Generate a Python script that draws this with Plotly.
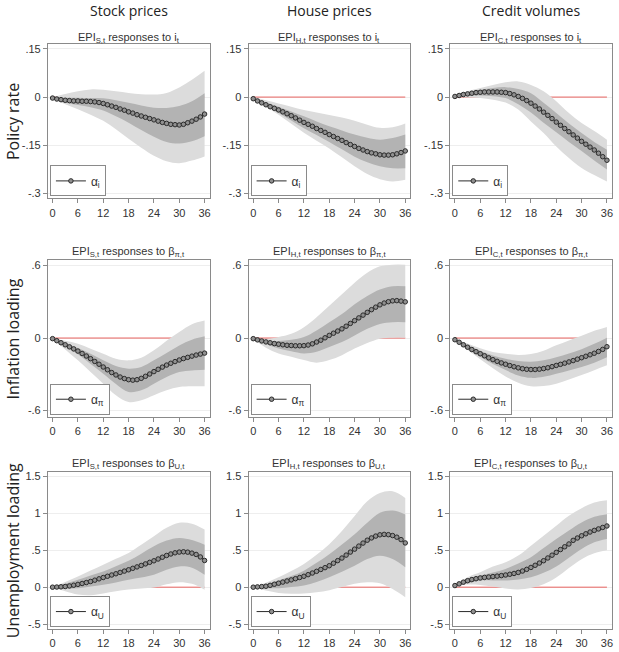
import plotly.graph_objects as go

W, H = 619, 652

# ---------------- data ----------------
horizon = list(range(37))
band_x = list(range(0, 37, 3))

col_titles = ["Stock prices", "House prices", "Credit volumes"]
row_titles = ["Policy rate", "Inflation loading", "Unemployment loading"]
shock_labels = ["i<sub>t</sub>", "β<sub>π,t</sub>", "β<sub>U,t</sub>"]
epi_labels = ["S,t", "H,t", "C,t"]
legend_labels = ["α<sub>i</sub>", "α<sub>π</sub>", "α<sub>U</sub>"]

x_ticks = [0, 6, 12, 18, 24, 30, 36]
y_tickvals = [[0.15, 0, -0.15, -0.3], [0.6, 0, -0.6], [1.5, 1, 0.5, 0, -0.5]]
y_ticktext = [[".15", "0", "-.15", "-.3"], [".6", "0", "-.6"], ["1.5", "1", ".5", "0", "-.5"]]
y_ranges = [[-0.316, 0.166], [-0.652, 0.645], [-0.568, 1.568]]

# --- row 1: policy rate ---
mean_S_i = [-0.003, -0.006, -0.008, -0.010, -0.011, -0.012, -0.012, -0.013, -0.013, -0.014,
            -0.015, -0.017, -0.020, -0.024, -0.028, -0.032, -0.037, -0.041, -0.046, -0.050,
            -0.055, -0.059, -0.063, -0.067, -0.071, -0.075, -0.079, -0.082, -0.085, -0.086,
            -0.087, -0.085, -0.080, -0.075, -0.069, -0.062, -0.053]
lu_S_i = [0.000, 0.010, 0.018, 0.024, 0.023, 0.018, 0.013, 0.009, 0.008, 0.013, 0.030, 0.054, 0.082]
ll_S_i = [-0.006, -0.022, -0.038, -0.055, -0.074, -0.100, -0.130, -0.158, -0.183, -0.200, -0.206, -0.198, -0.185]
du_S_i = [0.000, -0.002, -0.002, -0.003, -0.004, -0.010, -0.018, -0.026, -0.033, -0.034, -0.028, -0.013, 0.012]
dl_S_i = [-0.006, -0.018, -0.025, -0.032, -0.042, -0.060, -0.080, -0.103, -0.124, -0.140, -0.145, -0.138, -0.122]

mean_H_i = [-0.005, -0.012, -0.018, -0.024, -0.030, -0.035, -0.040, -0.046, -0.052, -0.058,
            -0.065, -0.072, -0.079, -0.085, -0.091, -0.098, -0.104, -0.110, -0.117, -0.123,
            -0.129, -0.135, -0.142, -0.148, -0.154, -0.160, -0.165, -0.170, -0.174, -0.177,
            -0.180, -0.181, -0.181, -0.180, -0.177, -0.173, -0.168]
lu_H_i = [0.000, -0.010, -0.020, -0.030, -0.040, -0.048, -0.056, -0.064, -0.074, -0.086, -0.096, -0.094, -0.082]
ll_H_i = [-0.008, -0.030, -0.055, -0.083, -0.111, -0.136, -0.160, -0.188, -0.216, -0.240, -0.256, -0.263, -0.258]
du_H_i = [-0.003, -0.016, -0.030, -0.045, -0.060, -0.076, -0.091, -0.104, -0.117, -0.127, -0.133, -0.128, -0.117]
dl_H_i = [-0.007, -0.027, -0.050, -0.073, -0.097, -0.118, -0.140, -0.163, -0.186, -0.203, -0.216, -0.222, -0.222]

mean_C_i = [0.002, 0.005, 0.008, 0.010, 0.012, 0.014, 0.015, 0.016, 0.016, 0.016,
            0.016, 0.015, 0.014, 0.011, 0.007, 0.002, -0.004, -0.011, -0.019, -0.028,
            -0.037, -0.047, -0.057, -0.067, -0.078, -0.088, -0.098, -0.108, -0.118, -0.128,
            -0.138, -0.147, -0.156, -0.165, -0.175, -0.186, -0.197]
lu_C_i = [0.002, 0.018, 0.028, 0.038, 0.046, 0.049, 0.038, 0.018, -0.013, -0.050, -0.081, -0.106, -0.133]
ll_C_i = [0.001, -0.001, -0.003, -0.008, -0.017, -0.039, -0.076, -0.112, -0.154, -0.190, -0.221, -0.243, -0.263]
du_C_i = [0.002, 0.014, 0.023, 0.028, 0.031, 0.025, 0.012, -0.018, -0.050, -0.082, -0.112, -0.140, -0.164]
dl_C_i = [0.001, 0.004, 0.005, 0.003, -0.003, -0.022, -0.048, -0.080, -0.110, -0.140, -0.168, -0.198, -0.226]

# --- row 2: inflation loading ---
mean_S_p = [-0.005, -0.022, -0.039, -0.056, -0.073, -0.090, -0.108, -0.128, -0.149, -0.171,
            -0.194, -0.217, -0.240, -0.263, -0.286, -0.306, -0.323, -0.336, -0.345, -0.349,
            -0.345, -0.334, -0.317, -0.298, -0.278, -0.259, -0.241, -0.224, -0.209, -0.195,
            -0.182, -0.170, -0.160, -0.150, -0.141, -0.133, -0.125]
lu_S_p = [-0.003, -0.022, -0.047, -0.088, -0.130, -0.171, -0.185, -0.163, -0.102, -0.022, 0.050, 0.115, 0.145]
ll_S_p = [-0.008, -0.095, -0.185, -0.281, -0.378, -0.474, -0.530, -0.516, -0.474, -0.433, -0.406, -0.400, -0.400]
du_S_p = [-0.004, -0.045, -0.082, -0.130, -0.185, -0.232, -0.254, -0.240, -0.185, -0.124, -0.061, -0.014, 0.014]
dl_S_p = [-0.007, -0.068, -0.135, -0.215, -0.295, -0.380, -0.447, -0.433, -0.378, -0.323, -0.281, -0.268, -0.262]

mean_H_p = [-0.005, -0.015, -0.024, -0.032, -0.039, -0.046, -0.051, -0.056, -0.060, -0.062,
            -0.064, -0.064, -0.063, -0.058, -0.048, -0.033, -0.018, 0.002, 0.022, 0.040,
            0.058, 0.076, 0.098, 0.121, 0.144, 0.167, 0.190, 0.213, 0.235, 0.256,
            0.275, 0.290, 0.301, 0.308, 0.310, 0.306, 0.300]
lu_H_p = [-0.003, -0.010, 0.008, 0.035, 0.090, 0.172, 0.267, 0.362, 0.458, 0.540, 0.594, 0.608, 0.608]
ll_H_p = [-0.007, -0.080, -0.128, -0.155, -0.183, -0.204, -0.183, -0.142, -0.087, -0.041, -0.005, 0.003, 0.003]
du_H_p = [-0.004, -0.020, -0.025, -0.015, 0.008, 0.063, 0.131, 0.200, 0.281, 0.349, 0.403, 0.430, 0.430]
dl_H_p = [-0.006, -0.050, -0.087, -0.110, -0.128, -0.114, -0.074, -0.033, 0.022, 0.076, 0.117, 0.131, 0.131]

mean_C_p = [-0.014, -0.035, -0.056, -0.076, -0.095, -0.113, -0.130, -0.147, -0.164, -0.179,
            -0.193, -0.206, -0.217, -0.228, -0.238, -0.247, -0.254, -0.259, -0.261, -0.261,
            -0.258, -0.253, -0.246, -0.237, -0.227, -0.218, -0.208, -0.198, -0.187, -0.175,
            -0.163, -0.151, -0.139, -0.126, -0.111, -0.094, -0.072]
lu_C_p = [-0.010, -0.045, -0.085, -0.115, -0.130, -0.140, -0.132, -0.105, -0.060, -0.020, 0.019, 0.060, 0.092]
ll_C_p = [-0.018, -0.100, -0.175, -0.250, -0.318, -0.370, -0.400, -0.398, -0.378, -0.343, -0.307, -0.266, -0.226]
du_C_p = [-0.012, -0.060, -0.105, -0.145, -0.172, -0.190, -0.196, -0.185, -0.160, -0.128, -0.092, -0.048, 0.003]
dl_C_p = [-0.016, -0.090, -0.155, -0.215, -0.265, -0.310, -0.330, -0.320, -0.295, -0.268, -0.240, -0.205, -0.160]

# --- row 3: unemployment loading ---
mean_S_u = [0.000, 0.002, 0.005, 0.009, 0.017, 0.027, 0.038, 0.050, 0.063, 0.077,
            0.095, 0.113, 0.131, 0.148, 0.165, 0.182, 0.200, 0.218, 0.236, 0.256,
            0.275, 0.295, 0.316, 0.337, 0.358, 0.382, 0.406, 0.430, 0.450, 0.466,
            0.476, 0.480, 0.475, 0.462, 0.444, 0.410, 0.362]
lu_S_u = [0.000, 0.070, 0.145, 0.225, 0.305, 0.385, 0.464, 0.575, 0.691, 0.805, 0.873, 0.860, 0.782]
ll_S_u = [0.000, -0.055, -0.100, -0.110, -0.085, -0.055, -0.030, -0.018, -0.006, 0.040, 0.068, 0.045, -0.035]
du_S_u = [0.000, 0.045, 0.100, 0.160, 0.214, 0.285, 0.359, 0.455, 0.555, 0.632, 0.668, 0.640, 0.577]
dl_S_u = [0.000, -0.020, -0.014, 0.008, 0.032, 0.065, 0.100, 0.130, 0.168, 0.236, 0.282, 0.265, 0.168]

mean_H_u = [0.000, 0.004, 0.008, 0.013, 0.025, 0.040, 0.054, 0.069, 0.084, 0.099,
            0.115, 0.131, 0.148, 0.170, 0.192, 0.215, 0.240, 0.265, 0.291, 0.325,
            0.360, 0.395, 0.435, 0.476, 0.516, 0.557, 0.598, 0.637, 0.668, 0.693,
            0.710, 0.716, 0.712, 0.700, 0.678, 0.645, 0.600]
lu_H_u = [0.000, 0.060, 0.135, 0.220, 0.314, 0.440, 0.583, 0.762, 0.964, 1.166, 1.278, 1.300, 1.210]
ll_H_u = [0.000, -0.045, -0.078, -0.088, -0.085, -0.068, -0.040, 0.002, 0.045, 0.067, 0.052, -0.025, -0.135]
du_H_u = [0.000, 0.040, 0.090, 0.150, 0.224, 0.330, 0.448, 0.580, 0.717, 0.874, 1.009, 1.040, 0.987]
dl_H_u = [0.000, -0.015, -0.013, 0.002, 0.022, 0.070, 0.135, 0.210, 0.291, 0.381, 0.426, 0.381, 0.269]

mean_C_u = [0.022, 0.045, 0.068, 0.088, 0.103, 0.115, 0.125, 0.132, 0.138, 0.144,
            0.150, 0.157, 0.165, 0.175, 0.186, 0.200, 0.219, 0.242, 0.268, 0.297,
            0.327, 0.359, 0.396, 0.434, 0.472, 0.510, 0.548, 0.586, 0.635, 0.667,
            0.697, 0.724, 0.748, 0.770, 0.790, 0.810, 0.830]
lu_C_u = [0.025, 0.135, 0.203, 0.279, 0.338, 0.428, 0.563, 0.698, 0.833, 0.968, 1.072, 1.149, 1.180]
ll_C_u = [0.020, 0.035, 0.030, 0.010, -0.018, -0.030, -0.010, 0.040, 0.130, 0.260, 0.380, 0.460, 0.500]
du_C_u = [0.023, 0.113, 0.158, 0.200, 0.248, 0.320, 0.405, 0.530, 0.653, 0.770, 0.878, 0.955, 0.990]
dl_C_u = [0.021, 0.054, 0.090, 0.090, 0.090, 0.105, 0.135, 0.195, 0.280, 0.400, 0.518, 0.608, 0.653]

panels = [
    [(mean_S_i, lu_S_i, ll_S_i, du_S_i, dl_S_i), (mean_H_i, lu_H_i, ll_H_i, du_H_i, dl_H_i), (mean_C_i, lu_C_i, ll_C_i, du_C_i, dl_C_i)],
    [(mean_S_p, lu_S_p, ll_S_p, du_S_p, dl_S_p), (mean_H_p, lu_H_p, ll_H_p, du_H_p, dl_H_p), (mean_C_p, lu_C_p, ll_C_p, du_C_p, dl_C_p)],
    [(mean_S_u, lu_S_u, ll_S_u, du_S_u, dl_S_u), (mean_H_u, lu_H_u, ll_H_u, du_H_u, dl_H_u), (mean_C_u, lu_C_u, ll_C_u, du_C_u, dl_C_u)],
]

# ---------------- layout geometry (pixels) ----------------
col_px = [(48, 210), (249, 411), (451, 613)]
row_px = [(43, 198), (260, 417), (472, 630)]
title_y_px = [37, 252, 464]

LIGHT = "#dcdcdc"
DARK = "#b3b3b3"
RED = "#e8625f"
TXT = "#333333"
FRAME = "#8a8a8a"

fig = go.Figure()
layout = {}
annotations = []

def px_x(p):
    return p / W

def px_y(p):
    return 1 - p / H

k = 0
for r in range(3):
    for c in range(3):
        k += 1
        sfx = "" if k == 1 else str(k)
        xa, ya = "x" + sfx, "y" + sfx
        mean, lu, ll, du, dl = panels[r][c]
        leg = "legend" if k == 1 else "legend" + str(k)

        # red zero line (drawn below the bands)
        fig.add_trace(go.Scatter(x=[horizon[0], horizon[-1]], y=[0, 0], mode="lines",
                                 line=dict(color=RED, width=1), xaxis=xa, yaxis=ya,
                                 showlegend=False, hoverinfo="skip"))
        # outer band
        fig.add_trace(go.Scatter(x=band_x, y=lu, mode="lines", line=dict(width=0, shape="spline", color=LIGHT),
                                 xaxis=xa, yaxis=ya, showlegend=False, hoverinfo="skip"))
        fig.add_trace(go.Scatter(x=band_x, y=ll, mode="lines", line=dict(width=0, shape="spline", color=LIGHT),
                                 fill="tonexty", fillcolor=LIGHT,
                                 xaxis=xa, yaxis=ya, showlegend=False, hoverinfo="skip"))
        # inner band
        fig.add_trace(go.Scatter(x=band_x, y=du, mode="lines", line=dict(width=0, shape="spline", color=DARK),
                                 xaxis=xa, yaxis=ya, showlegend=False, hoverinfo="skip"))
        fig.add_trace(go.Scatter(x=band_x, y=dl, mode="lines", line=dict(width=0, shape="spline", color=DARK),
                                 fill="tonexty", fillcolor=DARK,
                                 xaxis=xa, yaxis=ya, showlegend=False, hoverinfo="skip"))
        # mean response
        fig.add_trace(go.Scatter(x=horizon, y=mean, mode="lines+markers",
                                 name=legend_labels[r],
                                 line=dict(color="#2b2b2b", width=1),
                                 marker=dict(symbol="circle", size=4.5, color="#909090",
                                             line=dict(color="#2b2b2b", width=1)),
                                 xaxis=xa, yaxis=ya, legend=leg, showlegend=True))

        x0, x1 = col_px[c]
        y0, y1 = row_px[r]
        layout["xaxis" + sfx] = dict(
            domain=[px_x(x0), px_x(x1)], anchor=ya, range=[-1.1, 37.2],
            tickvals=x_ticks, ticks="outside", ticklen=4, tickcolor=FRAME,
            showline=True, linecolor=FRAME, linewidth=1, mirror=True,
            showgrid=False, zeroline=False,
            tickfont=dict(family="Liberation Sans, Arial, sans-serif", size=11, color=TXT))
        layout["yaxis" + sfx] = dict(
            domain=[px_y(y1), px_y(y0)], anchor=xa, range=y_ranges[r],
            tickvals=y_tickvals[r], ticktext=y_ticktext[r], ticks="outside", ticklen=4,
            tickcolor=FRAME, showline=True, linecolor=FRAME, linewidth=1, mirror=True,
            showgrid=True, gridcolor="#eeeeee", gridwidth=1, zeroline=False,
            tickfont=dict(family="Liberation Sans, Arial, sans-serif", size=11, color=TXT))
        layout[leg] = dict(
            x=px_x(x0 + 2), y=px_y(y1 - 2), xanchor="left", yanchor="bottom",
            bgcolor="white", bordercolor=FRAME, borderwidth=1,
            font=dict(family="Liberation Sans, Arial, sans-serif", size=12, color=TXT),
            itemwidth=30, tracegroupgap=0)

        annotations.append(dict(
            x=px_x((x0 + x1) / 2), y=px_y(title_y_px[r]), xref="paper", yref="paper",
            text="EPI<sub>" + epi_labels[c] + "</sub> responses to " + shock_labels[r],
            showarrow=False, xanchor="center", yanchor="middle",
            font=dict(family="Liberation Sans, Arial, sans-serif", size=11, color=TXT)))

for c in range(3):
    x0, x1 = col_px[c]
    annotations.append(dict(
        x=px_x((x0 + x1) / 2), y=px_y(10), xref="paper", yref="paper",
        text=col_titles[c], showarrow=False, xanchor="center", yanchor="middle",
        font=dict(family="Open Sans, Noto Sans, sans-serif", size=14, color="#222222")))

for r in range(3):
    y0, y1 = row_px[r]
    annotations.append(dict(
        x=px_x(13), y=px_y((y0 + y1) / 2), xref="paper", yref="paper",
        text=row_titles[r], showarrow=False, textangle=-90,
        xanchor="center", yanchor="middle",
        font=dict(family="Open Sans, Noto Sans, sans-serif", size=16, color="#222222")))

fig.update_layout(
    width=W, height=H, margin=dict(l=0, r=0, t=0, b=0),
    paper_bgcolor="white", plot_bgcolor="white",
    annotations=annotations, **layout)

fig.write_html("out.html")
